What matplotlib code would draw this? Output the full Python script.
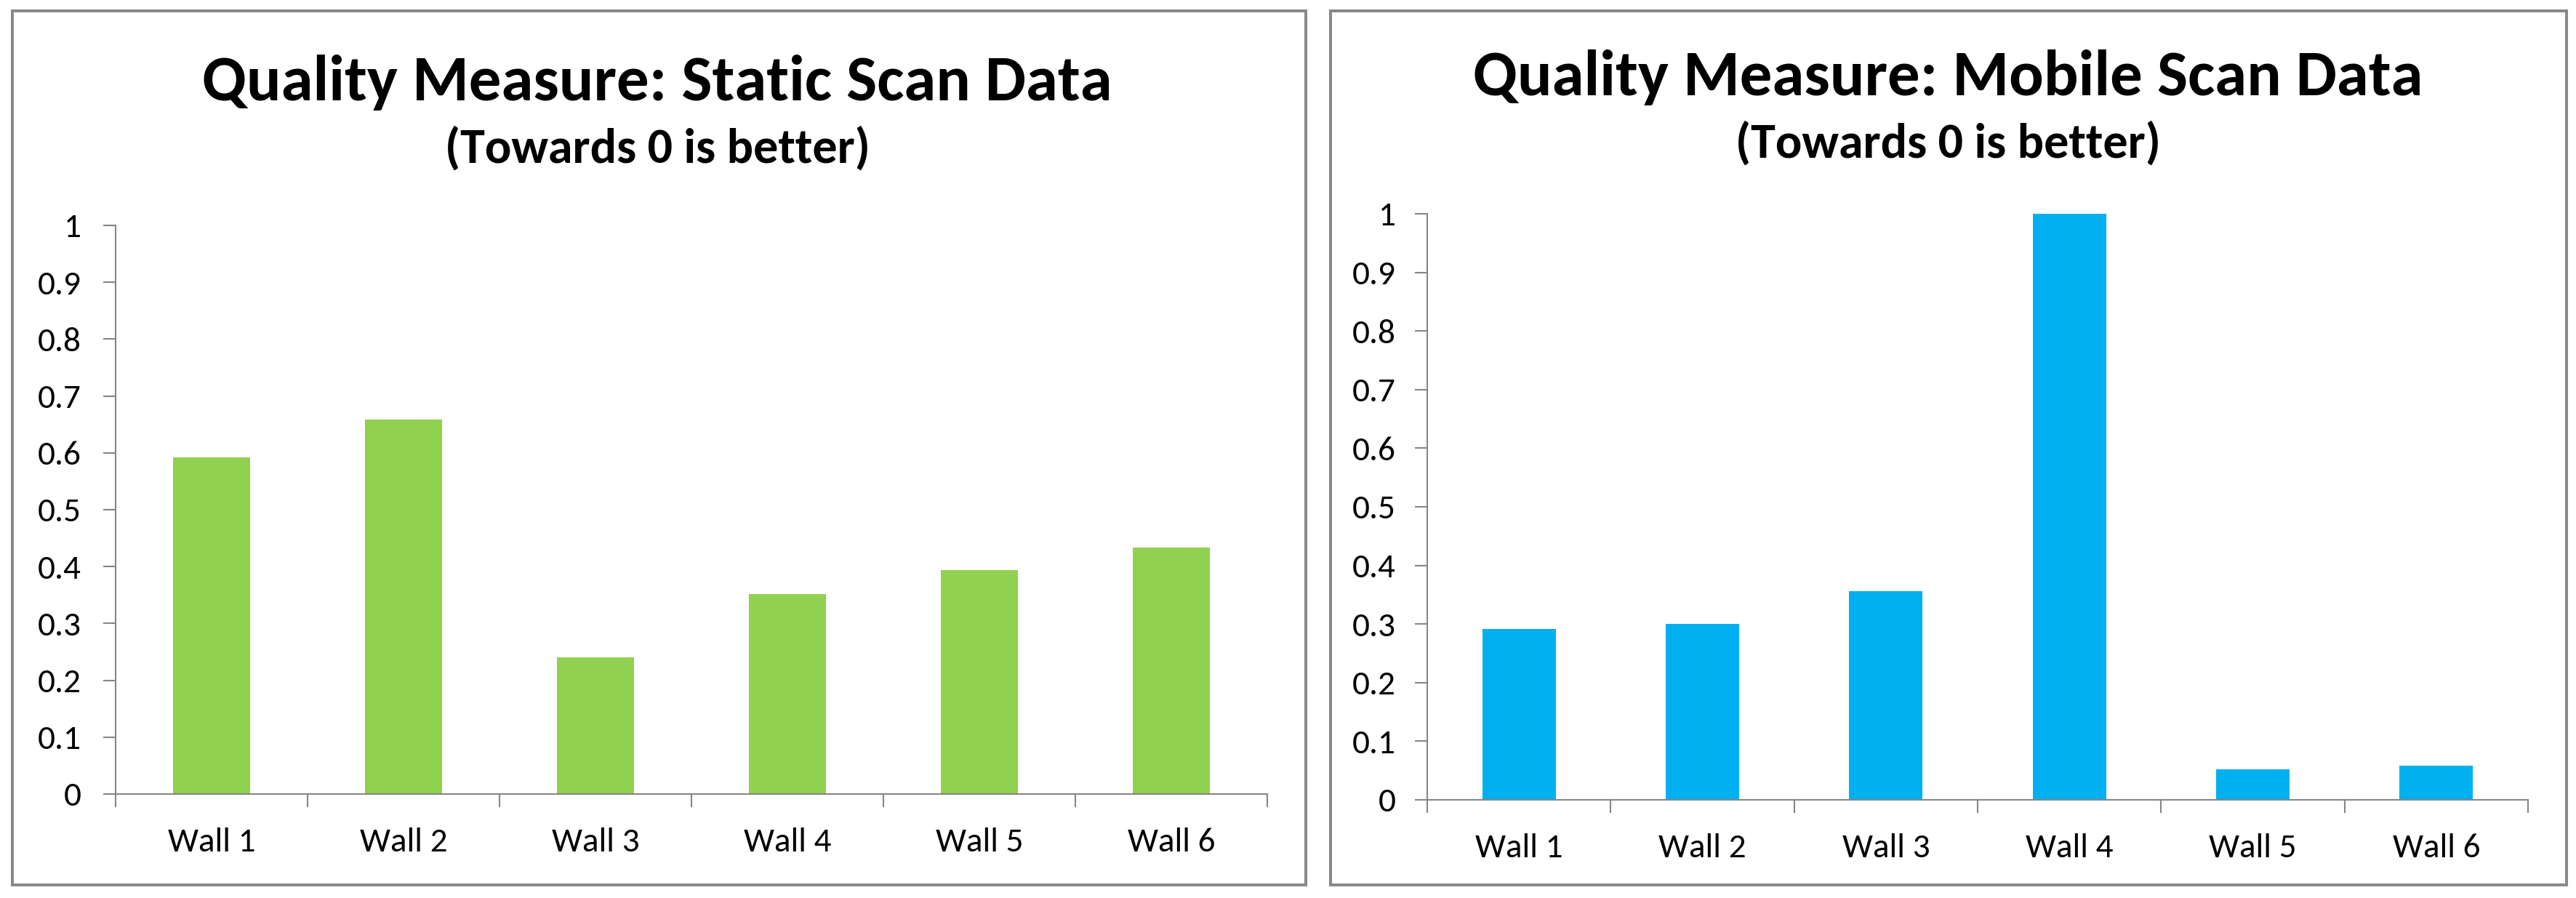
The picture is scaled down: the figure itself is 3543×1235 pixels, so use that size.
import matplotlib
matplotlib.use('Agg')
import matplotlib.pyplot as plt
from matplotlib.patches import Rectangle
from matplotlib.ticker import FixedLocator, NullFormatter
import numpy as np

plt.rcParams['font.family'] = ['Carlito', 'Lato', 'DejaVu Sans']

# data
walls = ['Wall 1', 'Wall 2', 'Wall 3', 'Wall 4', 'Wall 5', 'Wall 6']
static_scan = [0.592, 0.659, 0.240, 0.352, 0.394, 0.433]
mobile_scan = [0.291, 0.300, 0.356, 1.000, 0.052, 0.058]
yticks = [0, 0.1, 0.2, 0.3, 0.4, 0.5, 0.6, 0.7, 0.8, 0.9, 1]
ytick_labels = ['0', '0.1', '0.2', '0.3', '0.4', '0.5', '0.6', '0.7', '0.8', '0.9', '1']

W, H = 3543, 1235
fig = plt.figure(figsize=(W / 100, H / 100), dpi=100)
fig.patch.set_facecolor('white')

axis_grey = '#868686'
frame_grey = '#898989'


def px(x0, y0, x1, y1):
    # pixel box (top-left origin) -> figure fraction rect
    return [x0 / W, 1 - y1 / H, (x1 - x0) / W, (y1 - y0) / H]


def frame(x0, y0, x1, y1):
    r = Rectangle((x0 / W, 1 - y1 / H), (x1 - x0) / W, (y1 - y0) / H,
                  transform=fig.transFigure, fill=False,
                  edgecolor=frame_grey, linewidth=2.9, zorder=0)
    fig.patches.append(r)


def bar_panel(rect, values, color, ylabel_pad):
    ax = fig.add_axes(rect)
    x = np.arange(len(walls))
    ax.bar(x, values, width=0.4, color=color, zorder=2)
    ax.set_xlim(-0.5, len(walls) - 0.5)
    ax.set_ylim(0, 1)
    for side in ['top', 'right']:
        ax.spines[side].set_visible(False)
    for side in ['left', 'bottom']:
        ax.spines[side].set_color(axis_grey)
        ax.spines[side].set_linewidth(1.5)
    ax.spines['bottom'].set_zorder(3)
    ax.set_yticks(yticks)
    ax.set_yticklabels(ytick_labels)
    ax.tick_params(axis='y', direction='out', length=12, width=1.5,
                   color=axis_grey, pad=ylabel_pad, labelsize=34)
    ax.set_xticks(x)
    ax.set_xticklabels(walls)
    ax.tick_params(axis='x', which='major', length=0, pad=33, labelsize=34)
    ax.xaxis.set_minor_locator(FixedLocator(np.arange(-0.5, len(walls), 1.0)))
    ax.xaxis.set_minor_formatter(NullFormatter())
    ax.tick_params(axis='x', which='minor', direction='out', length=13,
                   width=1.5, color=axis_grey)
    return ax


frame(17, 15, 1796, 1217)
frame(1830, 15, 3530, 1217)

bar_panel(px(159, 310, 1743, 1092), static_scan, '#92D050', 22)
bar_panel(px(1963, 294, 3477, 1100), mobile_scan, '#00B0F0', 19)

fig.text(904 / W, 1 - 138 / H, 'Quality Measure: Static Scan Data',
         ha='center', va='baseline', fontsize=64, fontweight='bold')
fig.text(904 / W, 1 - 224 / H, '(Towards 0 is better)',
         ha='center', va='baseline', fontsize=49, fontweight='bold')
fig.text(2679 / W, 1 - 131 / H, 'Quality Measure: Mobile Scan Data',
         ha='center', va='baseline', fontsize=64, fontweight='bold')
fig.text(2679 / W, 1 - 217 / H, '(Towards 0 is better)',
         ha='center', va='baseline', fontsize=49, fontweight='bold')

fig.savefig('out.png', dpi=100, facecolor='white')
